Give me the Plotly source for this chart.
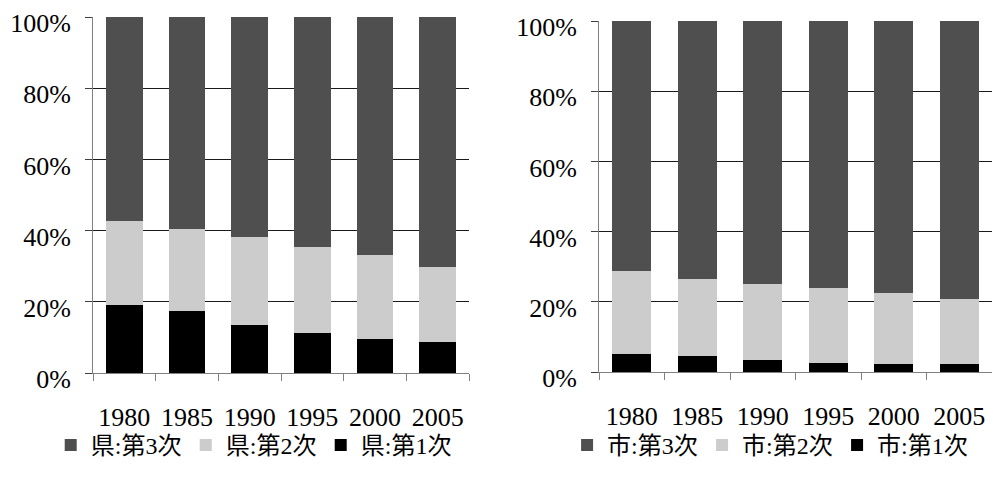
import plotly.graph_objects as go

years = ["1980", "1985", "1990", "1995", "2000", "2005"]

# 県: industry shares (%)
ken_primary = [19.1, 17.4, 13.5, 11.2, 9.5, 8.7]
ken_secondary = [23.6, 23.0, 24.6, 24.2, 23.6, 21.1]
ken_tertiary = [57.3, 59.6, 61.9, 64.6, 66.9, 70.2]

# 市: industry shares (%)
shi_primary = [5.0, 4.6, 3.3, 2.7, 2.2, 2.2]
shi_secondary = [23.9, 22.0, 21.8, 21.1, 20.3, 18.7]
shi_tertiary = [71.1, 73.4, 74.9, 76.2, 77.5, 79.1]

y_ticks = [0, 20, 40, 60, 80, 100]
y_tick_labels = ["0%", "20%", "40%", "60%", "80%", "100%"]

COL_1 = "#000000"
COL_2 = "#cccccc"
COL_3 = "#4f4f4f"

SERIF = "Liberation Serif, Noto Sans CJK JP, serif"

fig = go.Figure()

panels = [
    ("県", ken_primary, ken_secondary, ken_tertiary, "x", "y", "legend"),
    ("市", shi_primary, shi_secondary, shi_tertiary, "x2", "y2", "legend2"),
]
for name, p1, p2, p3, xa, ya, lg in panels:
    for label, vals, col in [
        (f"{name}:第1次", p1, COL_1),
        (f"{name}:第2次", p2, COL_2),
        (f"{name}:第3次", p3, COL_3),
    ]:
        fig.add_trace(go.Bar(
            x=years, y=vals, name=label, marker_color=col,
            marker_line_width=0, xaxis=xa, yaxis=ya, legend=lg,
        ))

xaxis_style = dict(
    type="category", automargin=False,
    showline=True, linecolor="#808080", linewidth=1,
    ticks="outside", tickson="boundaries", ticklen=7, tickcolor="#808080",
    showgrid=False, zeroline=False,
    tickfont=dict(family=SERIF, size=26, color="#000"),
    ticklabelstandoff=21, ticklabeloverflow="allow",
)
yaxis_style = dict(
    range=[0, 100], tickvals=y_ticks, ticktext=y_tick_labels,
    automargin=False,
    showline=True, linecolor="#808080", linewidth=1,
    ticks="outside", ticklen=7, tickcolor="#404040",
    showgrid=True, gridcolor="#1a1a1a", gridwidth=1,
    zeroline=False,
    tickfont=dict(family=SERIF, size=26, color="#000"),
    ticklabelshift=6, ticklabelstandoff=9, ticklabeloverflow="allow",
)

legend_style = dict(
    orientation="h", xanchor="center", yanchor="middle",
    font=dict(family=SERIF, size=24, color="#000"),
    traceorder="reversed", bgcolor="rgba(0,0,0,0)",
    itemwidth=30, tracegroupgap=0,
    entrywidth=90, entrywidthmode="pixels",
)

fig.update_layout(
    width=993, height=484,
    margin=dict(l=0, r=0, t=0, b=0),
    paper_bgcolor="white", plot_bgcolor="white",
    barmode="stack", bargap=0.41,
    xaxis=dict(domain=[93 / 993, 469 / 993], anchor="y", **xaxis_style),
    yaxis=dict(domain=[1 - 373 / 484, 1 - 17 / 484], anchor="x", **yaxis_style),
    xaxis2=dict(domain=[599 / 993, 992 / 993], anchor="y2", **xaxis_style),
    yaxis2=dict(domain=[1 - 372 / 484, 1 - 21 / 484], anchor="x2", **yaxis_style),
    legend=dict(x=0.255, y=0.08, **legend_style),
    legend2=dict(x=0.775, y=0.08, **legend_style),
    showlegend=True,
)

fig.write_html("out.html")
